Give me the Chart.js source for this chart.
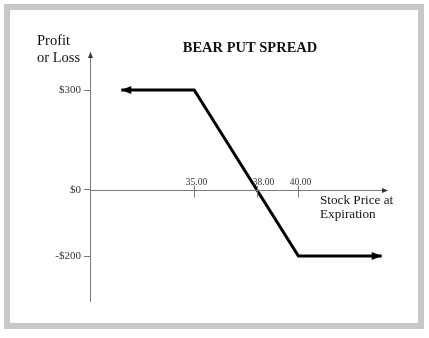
<!DOCTYPE html>
<html>
<head>
<meta charset="utf-8">
<script src="https://cdn.jsdelivr.net/npm/chart.js@4/dist/chart.umd.min.js"></script>
<style>
html,body{margin:0;padding:0;background:#fff;}
#wrap{width:429px;height:338px;}
</style>
</head>
<body>
<div id="wrap"><canvas id="c" width="429" height="338"></canvas></div>
<script>
// ---- data ----
const title = "BEAR PUT SPREAD";
const yAxisTitle = ["Profit", "or Loss"];
const xAxisTitle = ["Stock Price at", "Expiration"];
const stockPrice = [31.5, 35, 40, 44];      // x values of payoff line
const profitLoss = [300, 300, -200, -200];  // y values of payoff line
const xTickValues = [35, 38, 40];
const xTickLabels = ["35.00", "38.00", "40.00"];
const yTickValues = [300, 0, -200];
const yTickLabels = ["$300", "$0", "-$200"];

const AXIS = '#7a7a7a';
const SERIF = '"Liberation Serif", "DejaVu Serif", serif';

function arrow(ctx, tipX, tipY, dx, dy, len, half, color) {
  const n = Math.hypot(dx, dy); dx /= n; dy /= n;
  const bx = tipX - dx * len, by = tipY - dy * len;
  ctx.save();
  ctx.fillStyle = color;
  ctx.beginPath();
  ctx.moveTo(tipX, tipY);
  ctx.lineTo(bx - dy * half, by + dx * half);
  ctx.lineTo(bx + dy * half, by - dx * half);
  ctx.closePath();
  ctx.fill();
  ctx.restore();
}

const decor = {
  id: 'decor',
  beforeDraw(chart) {
    const ctx = chart.ctx;
    ctx.save();
    ctx.fillStyle = '#fff';
    ctx.fillRect(0, 0, chart.width, chart.height);
    ctx.strokeStyle = '#c8c8c8';
    ctx.lineWidth = 6;
    ctx.strokeRect(7, 7, 414, 319);
    ctx.restore();
  },
  afterDraw(chart) {
    const ctx = chart.ctx;
    const xs = chart.scales.x, ys = chart.scales.y;
    const area = chart.chartArea;
    const y0 = Math.round(ys.getPixelForValue(0)) + 0.5;
    ctx.save();
    // x axis line through y = 0
    ctx.strokeStyle = AXIS;
    ctx.lineWidth = 1;
    ctx.beginPath();
    ctx.moveTo(area.left, y0);
    ctx.lineTo(area.right - 3, y0);
    ctx.stroke();
    arrow(ctx, area.right, y0, 1, 0, 6, 2.5, '#333');
    // x ticks crossing the axis
    ctx.font = '9.5px ' + SERIF;
    ctx.fillStyle = '#333';
    ctx.textAlign = 'center';
    ctx.textBaseline = 'alphabetic';
    xTickValues.forEach((v, i) => {
      const px = Math.round(xs.getPixelForValue(v)) + 0.5;
      ctx.beginPath();
      ctx.moveTo(px, y0 - 5);
      ctx.lineTo(px, y0 + 7);
      ctx.stroke();
      const off = (v === 38) ? 6 : 2;
      ctx.fillText(xTickLabels[i], px + off, y0 - 6);
    });
    // y axis arrow
    const yx = Math.round(area.left) + 0.5;
    arrow(ctx, yx, area.top, 0, -1, 6, 2.5, '#333');
    // titles
    ctx.fillStyle = '#111';
    ctx.font = 'bold 14.5px ' + SERIF;
    ctx.textAlign = 'center';
    ctx.fillText(title, 250, 52);
    ctx.font = '14.5px ' + SERIF;
    ctx.textAlign = 'left';
    ctx.fillText(yAxisTitle[0], 37, 45);
    ctx.fillText(yAxisTitle[1], 37, 62);
    ctx.font = '13.2px ' + SERIF;
    ctx.fillText(xAxisTitle[0], 320, 204);
    ctx.fillText(xAxisTitle[1], 320, 218);
    ctx.restore();
  },
  afterDatasetsDraw(chart) {
    const ctx = chart.ctx;
    const pts = chart.getDatasetMeta(0).data;
    const a = pts[0], b = pts[1];
    arrow(ctx, a.x, a.y, a.x - b.x, a.y - b.y, 10, 4, '#000');
    const c = pts[pts.length - 1], d = pts[pts.length - 2];
    arrow(ctx, c.x, c.y, c.x - d.x, c.y - d.y, 10, 4, '#000');
  }
};

new Chart(document.getElementById('c'), {
  type: 'scatter',
  data: {
    datasets: [{
      data: stockPrice.map((x, i) => ({ x: x, y: profitLoss[i] })),
      showLine: true,
      borderColor: '#000',
      borderWidth: 3,
      pointRadius: 0,
      borderJoinStyle: 'miter',
      borderCapStyle: 'butt',
      tension: 0
    }]
  },
  options: {
    responsive: false,
    animation: false,
    events: [],
    layout: { padding: { left: 0, top: 52, right: 41, bottom: 37 } },
    plugins: { legend: { display: false }, tooltip: { enabled: false }, title: { display: false } },
    scales: {
      x: {
        type: 'linear', min: 30, max: 44.3, display: false
      },
      y: {
        type: 'linear', min: -335.5, max: 414.5,
        afterBuildTicks: (s) => { s.ticks = yTickValues.map(v => ({ value: v })); },
        afterFit: (s) => { s.width = 90; },
        ticks: {
          autoSkip: false,
          padding: 3,
          color: '#333',
          font: { family: SERIF, size: 11 },
          callback: (v) => { const i = yTickValues.indexOf(v); return i >= 0 ? yTickLabels[i] : ''; }
        },
        grid: { drawOnChartArea: false, drawTicks: true, tickLength: 6, color: AXIS, lineWidth: 1 },
        border: { display: true, color: AXIS, width: 1 }
      }
    }
  },
  plugins: [decor]
});
</script>
</body>
</html>
